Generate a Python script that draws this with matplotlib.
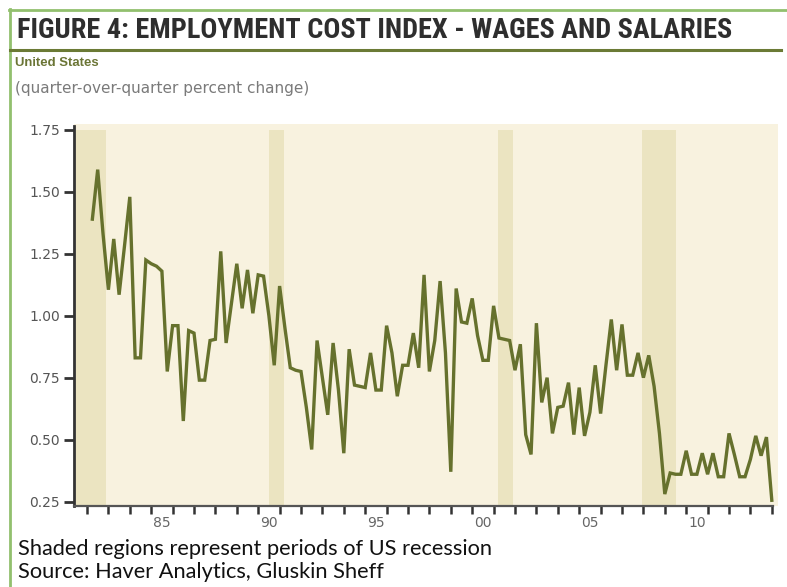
import matplotlib
matplotlib.use("Agg")
import matplotlib.pyplot as plt
import numpy as np
from matplotlib.lines import Line2D
from matplotlib import font_manager

# ---------------- data ----------------
start_year = 1982.25          # first observation: 1982 Q1 (plotted at quarter end)
eci_qoq = [
    1.39, 1.59, 1.33, 1.105,   # 1982
    1.31, 1.085, 1.28, 1.48,   # 1983
    0.83, 0.83, 1.225, 1.21,   # 1984
    1.20, 1.18, 0.775, 0.96,   # 1985
    0.96, 0.575, 0.94, 0.93,   # 1986
    0.74, 0.74, 0.90, 0.905,   # 1987
    1.26, 0.89, 1.05, 1.21,    # 1988
    1.03, 1.185, 1.01, 1.165,  # 1989
    1.16, 1.00, 0.80, 1.12,    # 1990
    0.95, 0.79, 0.78, 0.775,   # 1991
    0.63, 0.46, 0.90, 0.75,    # 1992
    0.60, 0.89, 0.70, 0.445,   # 1993
    0.865, 0.72, 0.715, 0.71,  # 1994
    0.85, 0.70, 0.70, 0.96,    # 1995
    0.85, 0.675, 0.80, 0.80,   # 1996
    0.93, 0.79, 1.165, 0.775,  # 1997
    0.90, 1.14, 0.85, 0.37,    # 1998
    1.11, 0.975, 0.97, 1.07,   # 1999
    0.92, 0.82, 0.82, 1.04,    # 2000
    0.91, 0.905, 0.90, 0.78,   # 2001
    0.885, 0.52, 0.44, 0.97,   # 2002
    0.65, 0.75, 0.525, 0.63,   # 2003
    0.635, 0.73, 0.52, 0.71,   # 2004
    0.515, 0.61, 0.80, 0.605,  # 2005
    0.80, 0.985, 0.78, 0.965,  # 2006
    0.76, 0.76, 0.85, 0.75,    # 2007
    0.84, 0.715, 0.525, 0.28,  # 2008
    0.365, 0.36, 0.36, 0.455,  # 2009
    0.36, 0.36, 0.445, 0.36,   # 2010
    0.445, 0.35, 0.35, 0.525,  # 2011
    0.44, 0.35, 0.35, 0.42,    # 2012
    0.515, 0.435, 0.51, 0.255, # 2013
]
recession_start = [1981.5, 1990.5, 2001.2, 2007.92]
recession_end = [1982.9, 1991.2, 2001.9, 2009.5]
y_ticks = [0.25, 0.50, 0.75, 1.00, 1.25, 1.50, 1.75]
x_label_years = [1985, 1990, 1995, 2000, 2005, 2010]
x_tick_labels = ["85", "90", "95", "00", "05", "10"]

title = "FIGURE 4: EMPLOYMENT COST INDEX - WAGES AND SALARIES"
subtitle1 = "United States"
subtitle2 = "(quarter-over-quarter percent change)"
footer1 = "Shaded regions represent periods of US recession"
footer2 = "Source: Haver Analytics, Gluskin Sheff"

# pick a condensed family for the title if one is installed
_names = sorted({f.name for f in font_manager.fontManager.ttflist})
_cond = [n for n in _names if ("Narrow" in n or "Condensed" in n)]
_pref = [n for n in _cond if "Liberation" in n] + [n for n in _cond if "Roboto" in n] + _cond
title_family = (_pref[:1] if _pref else []) + ["DejaVu Sans"]

# ---------------- figure ----------------
W, H = 787, 587
fig = plt.figure(figsize=(W / 100, H / 100), dpi=100)
fig.patch.set_facecolor("white")

def fx(px):
    return px / W

def fy(py):
    return 1 - py / H

# green frame (top and left)
fig.add_artist(Line2D([fx(9), fx(787)], [fy(10), fy(10)], color="#92c06e", lw=2.0))
fig.add_artist(Line2D([fx(10), fx(10)], [fy(9), fy(587)], color="#92c06e", lw=2.0))
# olive rule under title
fig.add_artist(Line2D([fx(10), fx(781)], [fy(50), fy(50)], color="#6b7a35", lw=2.2))

renderer = fig.canvas.get_renderer()

def fit(t, target_px):
    bb = t.get_window_extent(renderer=renderer)
    t.set_fontsize(t.get_fontsize() * target_px / bb.width)

t_title = fig.text(fx(17), fy(31), title, fontsize=20, fontweight="bold",
                   family=title_family, fontstretch="condensed", color="#2e2e2e",
                   va="center", ha="left")
fit(t_title, 716)

t_s1 = fig.text(fx(15), fy(63), subtitle1, fontsize=9, fontweight="bold",
                family=["Liberation Sans", "DejaVu Sans"], color="#6b7535",
                va="center", ha="left")
fit(t_s1, 84)
t_s2 = fig.text(fx(15), fy(88), subtitle2, fontsize=11,
                family=["DejaVu Sans"], color="#7a7a7a", va="center", ha="left")

t_f1 = fig.text(fx(18), fy(549), footer1, fontsize=13,
                family=["Lato", "DejaVu Sans"], color="#111111", va="center", ha="left")
fit(t_f1, 473)
t_f2 = fig.text(fx(18), fy(572), footer2, fontsize=13,
                family=["Lato", "DejaVu Sans"], color="#111111", va="center", ha="left")
t_f2.set_fontsize(t_f1.get_fontsize())

# ---------------- axes ----------------
ax_l, ax_r, ax_t, ax_b = 74, 778, 124, 506
ax = fig.add_axes([fx(ax_l), fy(ax_b), (ax_r - ax_l) / W, (ax_b - ax_t) / H])
ax.set_facecolor("#f8f2df")

x_left = 1982 + (ax_l - 87) / 21.4
x_right = 1982 + (ax_r - 87) / 21.4
y_bot = 0.25 - 4.5 / 248
y_top = 0.25 + (502 - ax_t) / 248
ax.set_xlim(x_left, x_right)
ax.set_ylim(y_bot, y_top)

for s, e in zip(recession_start, recession_end):
    ax.fill_between([s, e], y_bot, 1.75, color="#ebe4c1", lw=0, zorder=1)

x = start_year + 0.25 * np.arange(len(eci_qoq))
ax.plot(x, eci_qoq, color="#66712d", lw=2.4, zorder=3, solid_joinstyle="miter")

for sp in ["top", "right"]:
    ax.spines[sp].set_visible(False)
ax.spines["left"].set_color("#333333")
ax.spines["left"].set_linewidth(2.0)
ax.spines["left"].set_bounds(y_bot, 1.765)
ax.spines["bottom"].set_color("#555555")
ax.spines["bottom"].set_linewidth(1.6)
ax.spines["bottom"].set_bounds(x_left, 2014.05)

ax.set_yticks(y_ticks)
ax.set_yticklabels([f"{v:.2f}" for v in y_ticks])
ax.tick_params(axis="y", direction="out", length=7, width=2, color="#333333",
               labelsize=10, labelcolor="#555555", pad=3)

years = np.arange(1982, 2015)
ax.set_xticks(years)
ax.set_xticklabels([""] * len(years))
ax.set_xticks([yv + 0.5 for yv in x_label_years], minor=True)
ax.set_xticklabels(x_tick_labels, minor=True)
ax.tick_params(axis="x", which="major", direction="out", length=6, width=1.8, color="#333333")
ax.tick_params(axis="x", which="minor", length=0, labelsize=10, labelcolor="#666666", pad=7)

fig.savefig("out.png", dpi=100)
